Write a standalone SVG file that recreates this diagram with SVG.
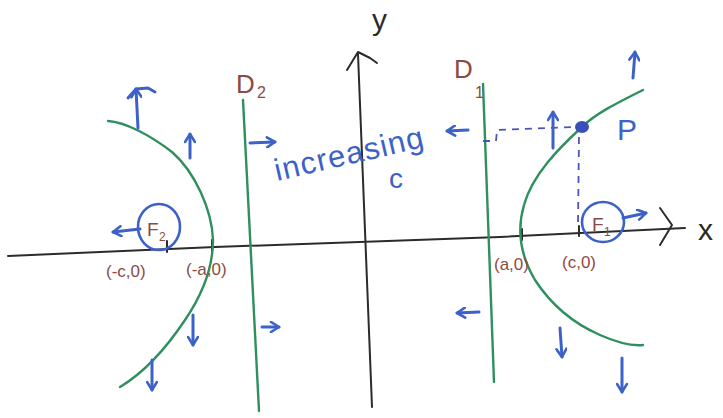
<svg xmlns="http://www.w3.org/2000/svg" width="723" height="418" viewBox="0 0 723 418">
<style>
.ax{stroke:#2b2b2b;stroke-width:2;fill:none;stroke-linecap:round;stroke-linejoin:round}
.gr{stroke:#2f8f5f;stroke-width:2.4;fill:none;stroke-linecap:round}
.bl{stroke:#3c62c8;stroke-width:3;fill:none;stroke-linecap:round;stroke-linejoin:round}
.dash{stroke:#4a55b8;stroke-width:1.8;fill:none;stroke-dasharray:7 6}
.br{fill:#8c4a42;font-family:"Liberation Sans",Arial,sans-serif}
.bt{fill:#3c62c8;font-family:"Liberation Sans",Arial,sans-serif}
.kt{fill:#2b2b2b;font-family:"Liberation Sans",Arial,sans-serif}
</style>
<defs>
<marker id="ah" viewBox="0 0 12 12" refX="10" refY="6" markerWidth="12" markerHeight="12" markerUnits="userSpaceOnUse" orient="auto">
<path d="M2,1 L10,6 L2,11" fill="none" stroke="#3c62c8" stroke-width="2.6" stroke-linecap="round" stroke-linejoin="round"/>
</marker>
</defs>
<rect width="723" height="418" fill="#ffffff"/>

<g id="axes">
<path class="ax" d="M8,256 L215,247 L500,237 L685,228"/>
<path class="ax" d="M660,208 L672,225 L660,245"/>
<path class="ax" d="M372,407 L358,54"/>
<path class="ax" d="M347,70 L358,52 L370,58 L377,63"/>
<path class="ax" d="M167,241 L167,252 M212,240 L212,251 M522,229 L522,240 M579,226 L579,236"/>
<text class="kt" x="372" y="30" font-size="30">y</text>
<text class="kt" x="698" y="240" font-size="30">x</text>
</g>

<g id="directrix-D2">
<path class="gr" d="M243,100 L259,411"/>
<text class="br" x="236" y="93" font-size="26">D</text>
<text class="br" x="257" y="98" font-size="16">2</text>
</g>

<g id="directrix-D1">
<path class="gr" d="M483,84 L494,382"/>
<text class="br" x="454" y="78" font-size="26">D</text>
<text class="br" x="475" y="98" font-size="16">1</text>
</g>

<g id="left-branch">
<path class="gr" d="M108,121 C125,122 150,135 172,152 C195,172 212,210 213,240 C213,270 200,298 185,320 C165,350 145,372 120,387"/>
</g>

<g id="right-branch">
<path class="gr" d="M643,90 C615,104 595,114 582,127 C560,147 532,175 524,205 C516,232 522,258 535,280 C550,303 570,322 600,335 C618,343 632,346 643,345"/>
</g>

<g id="focus-F2">
<ellipse cx="159" cy="227" rx="21" ry="23" fill="none" stroke="#3c62c8" stroke-width="2.6"/>
<text class="br" x="147" y="236" font-size="19">F</text>
<text class="br" x="159" y="241" font-size="12">2</text>
</g>

<g id="focus-F1">
<ellipse cx="603" cy="222" rx="21" ry="20" fill="none" stroke="#3c62c8" stroke-width="2.6"/>
<text class="br" x="592" y="231" font-size="19">F</text>
<text class="br" x="604" y="236" font-size="12">1</text>
</g>

<g id="point-P">
<ellipse cx="582" cy="127" rx="7" ry="6" fill="#3c4fb8"/>
<text class="bt" x="617" y="140" font-size="30">P</text>
</g>

<g id="labels">
<text class="br" x="106" y="277" font-size="17">(-c,0)</text>
<text class="br" x="186" y="275" font-size="17">(-a,0)</text>
<text class="br" x="494" y="270" font-size="17">(a,0)</text>
<text class="br" x="562" y="268" font-size="17">(c,0)</text>
<text class="bt" x="0" y="0" font-size="31" textLength="152" transform="translate(277,181) rotate(-13)">increasing</text>
<text class="bt" x="389" y="188" font-size="28">c</text>
</g>

<g id="connectors">
<path class="dash" d="M579,137 L578,224"/>
<path class="dash" d="M483,141 L496,141 L497,130 L575,127"/>
<path class="bl" marker-end="url(#ah)" d="M138,128 L136,89"/>
<path class="bl" d="M128,98 L136,89 L148,88 L155,92"/>
<path class="bl" marker-end="url(#ah)" d="M190,158 L190,134"/>
<path class="bl" marker-end="url(#ah)" d="M140,229 L113,232"/>
<path class="bl" marker-end="url(#ah)" d="M193,315 L193,345"/>
<path class="bl" marker-end="url(#ah)" d="M152,360 L152,390"/>
<path class="bl" marker-end="url(#ah)" d="M250,143 L275,142"/>
<path class="bl" marker-end="url(#ah)" d="M262,327 L279,327"/>
<path class="bl" marker-end="url(#ah)" d="M468,130 L447,131"/>
<path class="bl" marker-end="url(#ah)" d="M479,312 L457,313"/>
<path class="bl" marker-end="url(#ah)" d="M553,148 L553,112"/>
<path class="bl" marker-end="url(#ah)" d="M633,78 L635,52"/>
<path class="bl" marker-end="url(#ah)" d="M623,218 L646,213"/>
<path class="bl" marker-end="url(#ah)" d="M560,328 L562,357"/>
<path class="bl" marker-end="url(#ah)" d="M622,358 L622,392"/>
</g>
</svg>
